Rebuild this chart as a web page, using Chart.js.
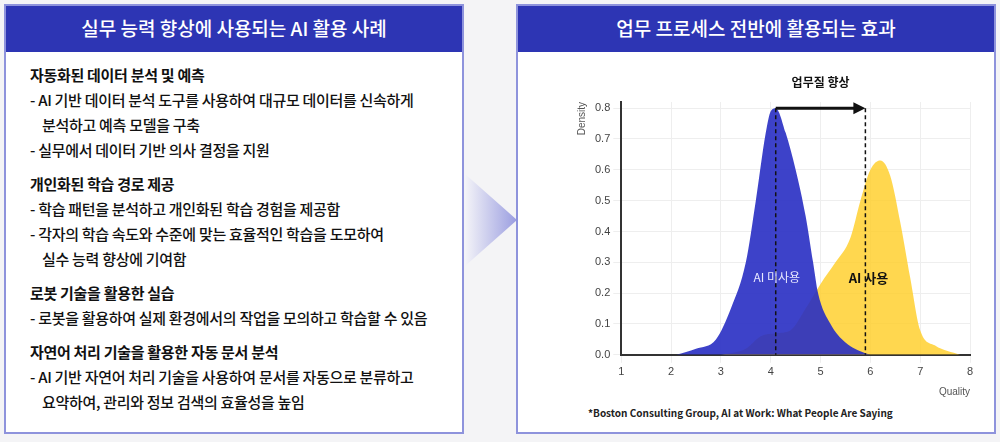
<!DOCTYPE html>
<html><head><meta charset="utf-8">
<script src="https://cdn.jsdelivr.net/npm/chart.js@4"></script>
<style>
body{margin:0;width:1000px;height:442px;background:#f4f4f6;font-family:"Noto Sans CJK KR","Noto Sans",sans-serif;position:relative;overflow:hidden}
.panel{position:absolute;top:4px;height:430px;background:#fff;border:2px solid #8e93dc;box-sizing:border-box}
.head{background:#2d35b4;color:#fff;height:46px;line-height:44px;text-align:center;font-size:19px;font-weight:500}
.txt{padding:10px 0 0 24px;font-size:15px;color:#111;line-height:25px;font-weight:500;letter-spacing:-0.3px}
.txt b{display:block;font-weight:700;font-size:15px;margin-top:9px}
.txt b:first-child{margin-top:0}
.ind{padding-left:12px}
#arrow{position:absolute;left:465px;top:174px;width:52px;height:92px;background:linear-gradient(90deg,#f4f4f8,#9a9de0);clip-path:polygon(0 0,100% 50%,0 100%)}
#foot{position:absolute;left:588px;top:405px;font-size:10px;font-weight:700;color:#222}
</style></head><body>
<div class="panel" style="left:4px;width:460px">
<div class="head">실무 능력 향상에 사용되는 AI 활용 사례</div>
<div class="txt">
<b>자동화된 데이터 분석 및 예측</b>
<div>- AI 기반 데이터 분석 도구를 사용하여 대규모 데이터를 신속하게</div>
<div class="ind">분석하고 예측 모델을 구축</div>
<div>- 실무에서 데이터 기반 의사 결정을 지원</div>
<b>개인화된 학습 경로 제공</b>
<div>- 학습 패턴을 분석하고 개인화된 학습 경험을 제공함</div>
<div>- 각자의 학습 속도와 수준에 맞는 효율적인 학습을 도모하여</div>
<div class="ind">실수 능력 향상에 기여함</div>
<b>로봇 기술을 활용한 실습</b>
<div>- 로봇을 활용하여 실제 환경에서의 작업을 모의하고 학습할 수 있음</div>
<b>자연어 처리 기술을 활용한 자동 문서 분석</b>
<div>- AI 기반 자연어 처리 기술을 사용하여 문서를 자동으로 분류하고</div>
<div class="ind">요약하여, 관리와 정보 검색의 효율성을 높임</div>
</div></div>
<div id="arrow"></div>
<div class="panel" style="left:516px;width:480px">
<div class="head">업무 프로세스 전반에 활용되는 효과</div>
</div>
<div style="position:absolute;left:562px;top:72px;width:420px;height:330px"><canvas id="c"></canvas></div>
<div id="foot">*Boston Consulting Group, AI at Work: What People Are Saying</div>
<script>
// curves (quality, density)
let noAiX = [2.1,2.5,2.9,3.2,3.5,3.7,3.9,4.0,4.1,4.3,4.5,4.7,4.85,4.95,5.2,5.5,5.9,6.0]
let noAiY = [0,0.02,0.05,0.15,0.3,0.5,0.72,0.79,0.8,0.72,0.6,0.45,0.3,0.2,0.1,0.04,0.005,0]
let aiX = [3.0,3.5,3.8,4.1,4.4,4.7,5.0,5.3,5.6,5.8,6.0,6.2,6.4,6.6,6.8,7.0,7.3,7.8]
let aiY = [0,0.02,0.06,0.07,0.08,0.15,0.23,0.3,0.38,0.5,0.6,0.63,0.58,0.43,0.25,0.08,0.03,0]
let peaks = [4.1, 5.9]
let xTicks = [1,2,3,4,5,6,7,8]

const pts = (xs, ys) => xs.map((x, i) => ({x: x, y: ys[i]}))

// dashed lines, arrow and labels drawn through the scales
const marks = {
  id: 'marks',
  afterDatasetsDraw(chart) {
    const c = chart.ctx, sx = chart.scales.x, sy = chart.scales.y
    const x1 = sx.getPixelForValue(peaks[0]), x2 = sx.getPixelForValue(peaks[1])
    const top = sy.getPixelForValue(0.8), bot = sy.getPixelForValue(0)
    c.save()
    c.strokeStyle = '#111'; c.lineWidth = 1.5; c.setLineDash([4, 3])
    c.beginPath(); c.moveTo(x1, top); c.lineTo(x1, bot); c.moveTo(x2, top); c.lineTo(x2, bot); c.stroke()
    c.setLineDash([]); c.lineWidth = 3
    c.beginPath(); c.moveTo(x1, top); c.lineTo(x2 - 10, top); c.stroke()
    c.fillStyle = '#111'
    c.beginPath(); c.moveTo(x2, top); c.lineTo(x2 - 12, top - 6); c.lineTo(x2 - 12, top + 6); c.fill()
    c.textAlign = 'center'; c.textBaseline = 'middle'
    c.font = 'bold 12px "Noto Sans CJK KR"'
    c.fillText('업무질 향상', (x1 + x2) / 2, top - 26)
    c.font = 'bold 13px "Noto Sans CJK KR"'
    c.fillText('AI 사용', x2 + 3, sy.getPixelForValue(0.25))
    c.fillStyle = '#e8e8ff'; c.font = '12px "Noto Sans CJK KR"'
    c.fillText('AI 미사용', x1 + 1, sy.getPixelForValue(0.25))
    c.restore()
  }
}

new Chart(document.getElementById('c'), {
  type: 'scatter',
  data: {
    datasets: [
      {label: 'AI 미사용', data: pts(noAiX, noAiY), showLine: true, cubicInterpolationMode: 'monotone', fill: 'origin',
       backgroundColor: 'rgba(40,45,195,0.9)', borderWidth: 0, pointRadius: 0},
      {label: 'AI 사용', data: pts(aiX, aiY), showLine: true, cubicInterpolationMode: 'monotone', fill: 'origin',
       backgroundColor: 'rgba(255,206,40,0.82)', borderWidth: 0, pointRadius: 0}
    ]
  },
  options: {
    responsive: true, maintainAspectRatio: false, animation: false,
    layout: {padding: {top: 30, right: 12, left: 10}},
    plugins: {legend: {display: false}, tooltip: {enabled: false}},
    scales: {
      x: {min: 1, max: 8, afterBuildTicks: a => { a.ticks = xTicks.map(v => ({value: v})) },
          grid: {color: '#eee'}, border: {color: '#333', width: 2},
          ticks: {color: '#444', font: {size: 11}},
          title: {display: true, text: 'Quality', align: 'end', color: '#555', font: {size: 10}}},
      y: {min: 0, max: 0.82, grid: {color: '#eee'}, border: {color: '#333', width: 2},
          afterBuildTicks: a => { a.ticks = [0,0.1,0.2,0.3,0.4,0.5,0.6,0.7,0.8].map(v => ({value: v})) },
          ticks: {color: '#444', font: {size: 11}, callback: v => v.toFixed(1)},
          title: {display: true, text: 'Density', align: 'end', color: '#555', font: {size: 10}}}
    }
  },
  plugins: [marks]
})
</script>
</body></html>
